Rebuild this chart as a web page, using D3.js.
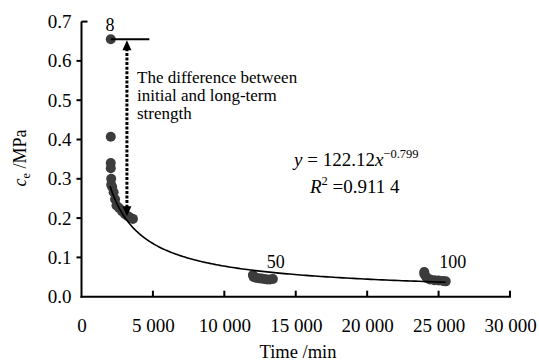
<!DOCTYPE html>
<html><head><meta charset="utf-8">
<script src="https://cdn.jsdelivr.net/npm/d3@7"></script>
<style>body{margin:0;background:#fff}svg{display:block}svg text{font-family:'Liberation Serif','Times New Roman',Times,'DejaVu Serif',serif !important}</style>
</head><body><div id="c"></div>
<script>
// Data
const group8 = [[2050,0.655],[2050,0.407],[2050,0.340],[2050,0.327],[2080,0.300],[2080,0.285],[2150,0.279],[2250,0.266],[2350,0.248],[2450,0.232],[2650,0.225],[2850,0.217],[3050,0.210],[3250,0.205],[3450,0.200],[3600,0.198]];
const group50 = [[12000,0.055],[12050,0.050],[12200,0.048],[12400,0.047],[12600,0.046],[12800,0.045],[13000,0.044],[13200,0.044],[13400,0.045]];
const group100 = [[24000,0.063],[24000,0.058],[24100,0.052],[24200,0.047],[24400,0.044],[24700,0.042],[25000,0.041],[25300,0.040],[25500,0.039]];
const groupLabels = [["8",2000,0.675],["50",13600,0.072],["100",26000,0.072]];
const fitA = 122.12, fitB = -0.799, fitRange = [2000, 25500];
const xTicks = [0,5000,10000,15000,20000,25000,30000];
const yTicks = [0,0.1,0.2,0.3,0.4,0.5,0.6,0.7];
const noteLines = ["The difference between","initial and long-term","strength"];
const refLine = {x0:2050, x1:4750, y:0.655};
const arrow = {x:3180, y0:0.655, y1:0.205};

const FF="'Liberation Serif','Times New Roman',Times,'DejaVu Serif',serif";
const W=539,H=362;
const svg=d3.select("#c").append("svg").attr("width",W).attr("height",H).style("font-family",FF);
const x=d3.scaleLinear().domain([0,30000]).range([81.5,510]);
const y=d3.scaleLinear().domain([0,0.7]).range([296.7,21.6]);
const fmt=d=>d3.format(",")(d).replace(/,/g," ");

// axes
const gx=svg.append("g").attr("transform",`translate(0,${y(0)})`)
  .call(d3.axisBottom(x).tickValues(xTicks).tickSize(0).tickPadding(22).tickFormat(d=>d===0?"0":fmt(d)));
gx.attr("font-family",null).attr("font-size",19);
gx.select(".domain").remove();
gx.selectAll("text").attr("font-size",19);
svg.append("g").selectAll("line").data(xTicks.slice(1)).join("line")
  .attr("x1",d=>x(d)).attr("x2",d=>x(d)).attr("y1",y(0)).attr("y2",y(0)-6).attr("stroke","#000").attr("stroke-width",2);
const gy=svg.append("g").attr("transform",`translate(${x(0)},0)`)
  .call(d3.axisLeft(y).tickValues(yTicks).tickSize(0).tickPadding(10).tickFormat(d3.format(".1f")));
gy.attr("font-family",null).attr("font-size",19);
gy.select(".domain").remove();
gy.selectAll("text").attr("font-size",19);
svg.append("g").selectAll("line").data(yTicks.slice(1)).join("line")
  .attr("x1",d=>d===0.7?x(0):x(0)-5).attr("x2",d=>d===0.7?x(0)+6:x(0)).attr("y1",d=>y(d)).attr("y2",d=>y(d)).attr("stroke","#000").attr("stroke-width",2);
svg.append("line").attr("x1",x(0)).attr("x2",x(0)).attr("y1",y(0.7)).attr("y2",y(0)+1).attr("stroke","#000").attr("stroke-width",2);
svg.append("line").attr("x1",x(0)-1).attr("x2",x(30000)+1).attr("y1",y(0)).attr("y2",y(0)).attr("stroke","#000").attr("stroke-width",2);

// points
const pts=[...group8,...group50,...group100];
svg.append("g").selectAll("circle").data(pts).join("circle")
  .attr("cx",d=>x(d[0])).attr("cy",d=>y(d[1])).attr("r",5).attr("fill","#3c3c3c");

// fit curve
const xs=d3.range(0,201).map(i=>fitRange[0]*Math.pow(fitRange[1]/fitRange[0],i/200));
svg.append("path").datum(xs).attr("fill","none").attr("stroke","#000").attr("stroke-width",1.6)
  .attr("d",d3.line().x(d=>x(d)).y(d=>y(fitA*Math.pow(d,fitB))));

// group labels
svg.append("g").selectAll("text").data(groupLabels).join("text")
  .attr("x",d=>x(d[1])).attr("y",d=>y(d[2])).attr("text-anchor","middle").attr("font-size",18).text(d=>d[0]);

// reference line & arrow
svg.append("line").attr("x1",x(refLine.x0)).attr("x2",x(refLine.x1)).attr("y1",y(refLine.y)).attr("y2",y(refLine.y)).attr("stroke","#000").attr("stroke-width",2);
const ax=x(arrow.x), ay0=y(arrow.y0)+1, ay1=y(arrow.y1);
svg.append("line").attr("x1",ax).attr("x2",ax).attr("y1",ay0+8).attr("y2",ay1-8).attr("stroke","#000").attr("stroke-width",3).attr("stroke-dasharray","3,1.6");
svg.append("path").attr("d",`M${ax},${ay0} L${ax-4.5},${ay0+10} L${ax+4.5},${ay0+10}Z`).attr("fill","#000");
svg.append("path").attr("d",`M${ax},${ay1} L${ax-4.5},${ay1-10} L${ax+4.5},${ay1-10}Z`).attr("fill","#000");

// note text
svg.append("g").selectAll("text").data(noteLines).join("text")
  .attr("x",137).attr("y",(d,i)=>83+i*18).attr("font-size",17).text(d=>d);

// equation
const eq=svg.append("text").attr("x",294).attr("y",166).attr("font-size",19);
eq.append("tspan").attr("font-style","italic").text("y");
eq.append("tspan").text(" = 122.12");
eq.append("tspan").attr("font-style","italic").text("x");
eq.append("tspan").attr("font-size",12.5).attr("dy",-8).text("\u22120.799");
const r2=svg.append("text").attr("x",310).attr("y",193).attr("font-size",19);
r2.append("tspan").attr("font-style","italic").text("R");
r2.append("tspan").attr("font-size",12.5).attr("dy",-8).text("2");
r2.append("tspan").attr("dy",8).text(" =0.911 4");

// axis titles
svg.append("text").attr("x",298).attr("y",358).attr("text-anchor","middle").attr("font-size",18.5).text("Time /min");
const yt=svg.append("text").attr("transform","translate(26,158) rotate(-90)").attr("text-anchor","middle").attr("font-size",18);
yt.append("tspan").attr("font-style","italic").text("c");
yt.append("tspan").attr("font-size",12).attr("dy",4).text("e");
yt.append("tspan").attr("dy",-4).text(" /MPa");
</script></body></html>
